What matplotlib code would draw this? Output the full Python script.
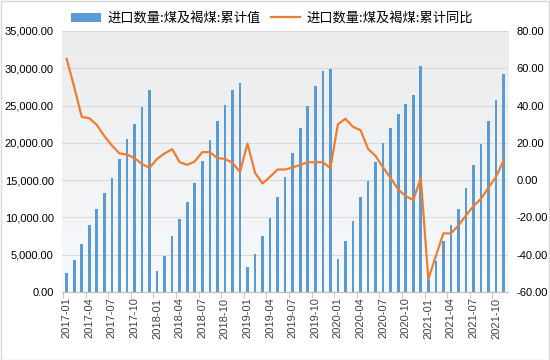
import matplotlib
matplotlib.use('Agg')
import matplotlib.pyplot as plt
from matplotlib.colors import LinearSegmentedColormap
from matplotlib.patches import Rectangle
from matplotlib.ticker import FuncFormatter
import numpy as np
import pandas as pd

plt.rcParams['font.family'] = ['Liberation Sans', 'Noto Sans CJK SC', 'DejaVu Sans']

months = [str(p) for p in pd.period_range('2017-01', '2021-11', freq='M')]

# 累计值, 万吨
cum_2017 = [2500, 4290, 6430, 8930, 11160, 13300, 15270, 17770, 20450, 22590, 24820, 27050]
cum_2018 = [2770, 4870, 7500, 9820, 12050, 14600, 17500, 20360, 22860, 25130, 27100, 28040]
cum_2019 = [3390, 5090, 7460, 9960, 12680, 15450, 18660, 21960, 25000, 27590, 29640, 29960]
cum_2020 = [4375, 6790, 9550, 12680, 14910, 17410, 20000, 22050, 23840, 25270, 26430, 30360]
cum_2021 = [1700, 4110, 6880, 8970, 11160, 13930, 16960, 19820, 22990, 25710, 29200]

# 累计同比, %
yoy_2017 = [65.0, 50.0, 33.9, 33.2, 29.6, 23.6, 18.6, 14.3, 13.7, 11.8, 8.6, 6.6]
yoy_2018 = [11.4, 14.3, 16.6, 9.6, 8.2, 10.0, 15.0, 15.0, 11.8, 11.4, 9.3, 4.3]
yoy_2019 = [19.6, 3.9, -1.8, 1.8, 5.7, 5.7, 6.8, 8.2, 9.6, 9.6, 9.6, 6.4]
yoy_2020 = [30.0, 32.9, 28.6, 26.8, 16.8, 12.9, 6.8, 1.1, -5.0, -8.6, -10.7, 1.1]
yoy_2021 = [-53.2, -40.7, -28.6, -28.6, -24.3, -18.9, -13.9, -10.0, -3.9, 1.8, 10.7]

cum_value = cum_2017 + cum_2018 + cum_2019 + cum_2020 + cum_2021
cum_yoy = yoy_2017 + yoy_2018 + yoy_2019 + yoy_2020 + yoy_2021

bar_name = '进口数量:煤及褐煤:累计值'
line_name = '进口数量:煤及褐煤:累计同比'

fig = plt.figure(figsize=(5.5, 3.6), dpi=100)
ax = fig.add_axes([0.113, 0.189, 0.811, 0.725])
ax2 = ax.twinx()

x = np.arange(len(months))

# light gradient background of the plot area
cmap = LinearSegmentedColormap.from_list('bg', ['#f7f9fc', '#ececec'])
grad = np.linspace(0, 1, 100).reshape(-1, 1)
ax.imshow(grad, extent=[0, 1, 0, 1], transform=ax.transAxes, aspect='auto',
          cmap=cmap, origin='lower', zorder=0)

bars = ax.bar(x, cum_value, width=0.35, color='#5b9bd5', zorder=2, label=bar_name)
line, = ax2.plot(x, cum_yoy, color='#ed7d31', linewidth=1.6, label=line_name)

ax.set_xlim(-0.6, len(months) - 0.4)
ax.set_ylim(0, 35000)
ax2.set_ylim(-60, 80)
ax.set_yticks(np.arange(0, 35001, 5000))
ax2.set_yticks(np.arange(-60, 81, 20))
ax.yaxis.set_major_formatter(FuncFormatter(lambda v, p: f'{v:,.2f}'))
ax2.yaxis.set_major_formatter(FuncFormatter(lambda v, p: f'{v:.2f}'))

ax.grid(axis='y', color='#d9d9d9', linewidth=0.8, zorder=1)
ax.set_axisbelow(True)

ax.set_xticks(x[::3])
ax.set_xticklabels(months[::3], rotation=90, fontsize=8, color='#404040')
ax.set_xticks(np.arange(-0.5, len(months), 3), minor=True)
ax.tick_params(axis='x', which='major', length=0, pad=4)
ax.tick_params(axis='x', which='minor', length=4, color='#bfbfbf')
ax.tick_params(axis='y', length=0, labelsize=8, pad=6, labelcolor='black')
ax2.tick_params(axis='y', length=0, labelsize=8, pad=6, labelcolor='black')

for a in (ax, ax2):
    for s in ('top', 'left', 'right'):
        a.spines[s].set_visible(False)
    a.spines['bottom'].set_color('#bfbfbf')

fig.legend([bars, line], [bar_name, line_name], loc='upper center',
           bbox_to_anchor=(0.495, 1.0), ncol=2, frameon=False,
           prop={'family': ['Noto Sans CJK SC'], 'size': 9.5},
           handlelength=2.2, handleheight=0.7, columnspacing=0.8, handletextpad=0.5)

fig.patches.append(Rectangle((0.001, 0.001), 0.997, 0.997, transform=fig.transFigure,
                             fill=False, edgecolor='#d9d9d9', linewidth=1))

fig.savefig('out.png', dpi=100)
